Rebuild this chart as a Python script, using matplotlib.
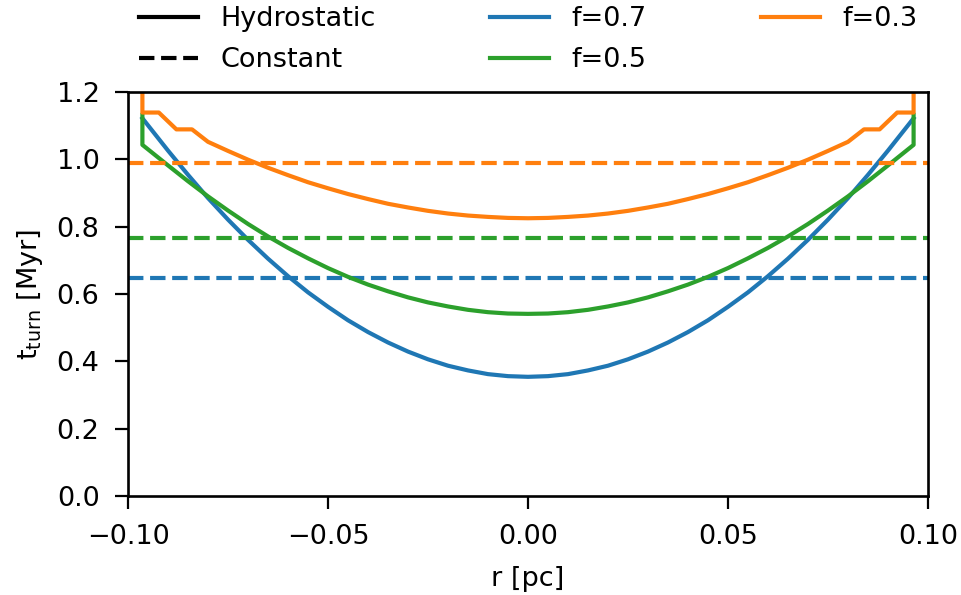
import numpy as np
import matplotlib
matplotlib.use('Agg')
import matplotlib.pyplot as plt

# radius grid (one half, the profile is symmetric about r=0)
r_half = [0.0, 0.005, 0.01, 0.015, 0.02, 0.025, 0.03, 0.035, 0.04, 0.045,
          0.05, 0.055, 0.06, 0.065, 0.07, 0.075, 0.08, 0.085, 0.09, 0.0964]

# hydrostatic turnover time [Myr]
t_f07 = [0.354, 0.356, 0.362, 0.373, 0.387, 0.406, 0.429, 0.456, 0.487, 0.522,
         0.562, 0.605, 0.653, 0.705, 0.761, 0.821, 0.885, 0.954, 1.026, 1.122]
t_f05 = [0.541, 0.542, 0.546, 0.553, 0.563, 0.575, 0.590, 0.608, 0.628, 0.651,
         0.677, 0.706, 0.737, 0.771, 0.808, 0.848, 0.890, 0.935, 0.982, 1.043]

# f=0.3 has its own (coarser near the edge) grid
r_half_f03 = [0.0, 0.005, 0.01, 0.015, 0.02, 0.025, 0.03, 0.035, 0.04, 0.045,
              0.05, 0.055, 0.06, 0.065, 0.07, 0.075, 0.08, 0.084, 0.0879,
              0.0923, 0.0964, 0.0964]
t_f03 = [0.825, 0.826, 0.829, 0.833, 0.839, 0.847, 0.857, 0.868, 0.882, 0.897,
         0.914, 0.932, 0.953, 0.975, 0.999, 1.025, 1.052, 1.089, 1.089,
         1.139, 1.139, 1.30]

# edge value of the f=0.5 profile
r_edge_f05 = 0.0964
t_edge_f05 = 1.132

# constant-density turnover time [Myr]
t_const = {'f=0.7': 0.648, 'f=0.5': 0.767, 'f=0.3': 0.990}

colors = {'f=0.7': '#1f77b4', 'f=0.5': '#2ca02c', 'f=0.3': '#ff7f0e'}


def mirror(r, t):
    r = np.asarray(r)
    t = np.asarray(t)
    return np.concatenate([-r[::-1], r[1:]]), np.concatenate([t[::-1], t[1:]])


fs = 19.5
plt.rcParams['font.size'] = fs
plt.rcParams['axes.linewidth'] = 1.9
plt.rcParams['xtick.major.size'] = 9.5
plt.rcParams['ytick.major.size'] = 9.5
plt.rcParams['xtick.major.width'] = 1.6
plt.rcParams['ytick.major.width'] = 1.6
plt.rcParams['xtick.major.pad'] = 11
plt.rcParams['ytick.major.pad'] = 11

fig = plt.figure(figsize=(9.61, 5.95), dpi=100)
ax = fig.add_axes([128 / 961, 99 / 595, 800 / 961, 404 / 595])

lw = 3
profiles = {
    'f=0.7': (r_half, t_f07),
    'f=0.5': (r_half + [r_edge_f05], t_f05 + [t_edge_f05]),
    'f=0.3': (r_half_f03, t_f03),
}
for name in ['f=0.7', 'f=0.5', 'f=0.3']:
    r, t = mirror(*profiles[name])
    ax.plot(r, t, color=colors[name], lw=lw)
    ax.axhline(t_const[name], color=colors[name], lw=lw, ls='--')

ax.set_xlim(-0.1, 0.1)
ax.set_ylim(0, 1.2)
ax.set_xticks([-0.1, -0.05, 0.0, 0.05, 0.1])
ax.set_yticks([0.0, 0.2, 0.4, 0.6, 0.8, 1.0, 1.2])
ax.set_xlabel('r [pc]', fontsize=fs, labelpad=11)
ax.set_ylabel(r'$\mathrm{t_{turn}}$ [Myr]', fontsize=fs, labelpad=8)

# legend: line style + colour
handles = [
    plt.Line2D([], [], color='k', lw=lw, ls='-'),
    plt.Line2D([], [], color='k', lw=lw, ls='--'),
    plt.Line2D([], [], color=colors['f=0.7'], lw=lw),
    plt.Line2D([], [], color=colors['f=0.5'], lw=lw),
    plt.Line2D([], [], color=colors['f=0.3'], lw=lw),
]
labels = ['Hydrostatic', 'Constant', 'f=0.7', 'f=0.5', 'f=0.3']
ax.legend(handles, labels, ncol=3, frameon=False, mode='expand',
          loc='lower left', bbox_to_anchor=(0, 1.02, 1, 0.2),
          borderaxespad=0.0, handlelength=2.2, handletextpad=0.8,
          labelspacing=0.55, fontsize=fs)

fig.savefig('out.png', dpi=100)
